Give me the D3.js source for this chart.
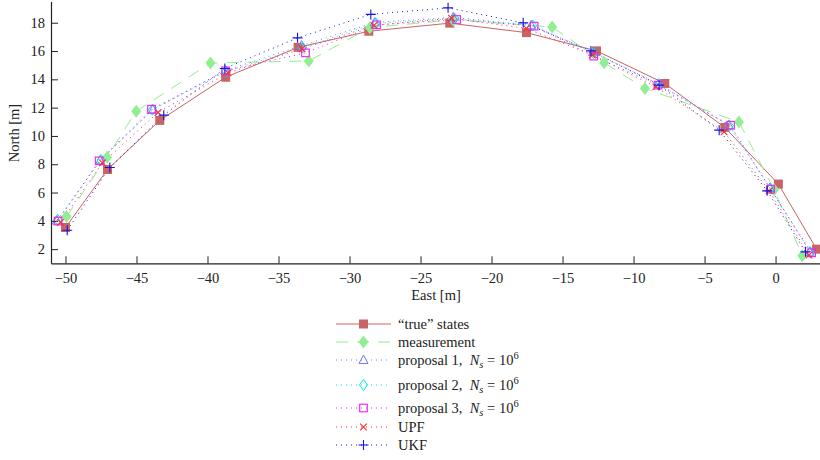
<!DOCTYPE html>
<html>
<head>
<meta charset="utf-8">
<script src="https://cdn.jsdelivr.net/npm/d3@7"></script>
<style>
  html, body { margin: 0; padding: 0; background: #fff; }
  svg { display: block; }
  svg text { font-family: "Liberation Serif", "Times New Roman", "DejaVu Serif", serif; fill: #222; }
</style>
</head>
<body>
<svg id="chart" width="820" height="460"></svg>
<script>
// Position estimates [East, North] in metres for each time step
const trueStates = [[-50.0, 3.53], [-47.04, 7.63], [-43.36, 11.1], [-38.72, 14.15], [-33.62, 16.26], [-28.64, 17.4], [-22.94, 17.97], [-17.54, 17.3], [-12.61, 16.01], [-7.8, 13.71], [-3.57, 10.6], [0.2, 6.6], [2.89, 2.0]];
const measurement = [[-49.93, 4.3], [-47.07, 8.5], [-45.02, 11.75], [-39.79, 15.15], [-32.87, 15.3], [-28.57, 17.65], [-22.7, 18.2], [-15.73, 17.7], [-12.07, 15.17], [-9.2, 13.36], [-2.58, 10.98], [-0.1, 6.2], [1.88, 1.53]];
const proposal1 = [[-50.6, 4.02], [-47.55, 8.28], [-43.85, 11.85], [-38.75, 14.62], [-33.38, 16.38], [-28.22, 18.02], [-22.7, 18.38], [-17.2, 17.82], [-12.85, 15.92], [-8.25, 13.68], [-3.3, 10.75], [-0.4, 6.32], [2.4, 1.82]];
const proposal2 = [[-50.55, 4.08], [-47.5, 8.3], [-43.88, 11.86], [-38.7, 14.55], [-33.3, 16.25], [-28.15, 17.95], [-22.6, 18.3], [-17.1, 17.8], [-12.82, 15.85], [-8.2, 13.65], [-3.25, 10.72], [-0.35, 6.28], [2.45, 1.78]];
const proposal3 = [[-50.52, 3.98], [-47.63, 8.24], [-43.94, 11.89], [-38.73, 14.6], [-33.1, 15.87], [-28.1, 17.85], [-22.46, 18.23], [-17.0, 17.76], [-12.8, 15.64], [-8.27, 13.59], [-3.17, 10.76], [-0.35, 6.24], [2.54, 1.74]];
const upf = [[-50.35, 3.89], [-47.4, 8.1], [-43.48, 11.66], [-38.55, 14.46], [-33.34, 16.16], [-28.27, 17.81], [-22.82, 18.32], [-17.54, 17.6], [-12.89, 15.71], [-8.43, 13.47], [-3.62, 10.29], [-0.45, 6.12], [2.35, 1.58]];
const ukf = [[-49.88, 3.34], [-46.88, 7.77], [-43.08, 11.47], [-38.78, 14.77], [-33.66, 16.93], [-28.5, 18.59], [-23.06, 19.05], [-17.77, 17.99], [-13.0, 16.01], [-8.2, 13.59], [-3.97, 10.41], [-0.59, 6.12], [2.11, 1.81]];

const xTicks = [-50, -45, -40, -35, -30, -25, -20, -15, -10, -5, 0];
const yTicks = [2, 4, 6, 8, 10, 12, 14, 16, 18];

const FONT = "'Liberation Serif', 'Times New Roman', serif";
const svg = d3.select("#chart");

const x = d3.scaleLinear().domain([-51.02, 3.2]).range([51, 821]);
const y = d3.scaleLinear().domain([1, 19.5]).range([263.3, 1.5]);

// Series styles
const series = [
  { name: "true", data: trueStates, color: "#c86464", dash: null, marker: "squareFill" },
  { name: "meas", data: measurement, color: "#92ee92", dash: "12,9", marker: "diamondFill" },
  { name: "p1", data: proposal1, color: "#7878ff", dash: "1,4", marker: "triangle" },
  { name: "p2", data: proposal2, color: "#00e8e8", dash: "1,4", marker: "diamond" },
  { name: "p3", data: proposal3, color: "#f020f0", dash: "1,4", marker: "square" },
  { name: "upf", data: upf, color: "#ff2a2a", dash: "1,4", marker: "cross" },
  { name: "ukf", data: ukf, color: "#1515e0", dash: "1,4", marker: "plus" }
];

function drawMarker(g, type, cx, cy, color) {
  switch (type) {
    case "squareFill":
      g.append("rect").attr("x", cx - 4.5).attr("y", cy - 4.5).attr("width", 9).attr("height", 9)
        .attr("fill", color);
      break;
    case "diamondFill":
      g.append("path").attr("d", `M${cx},${cy - 6.5}L${cx + 5},${cy}L${cx},${cy + 6.5}L${cx - 5},${cy}Z`)
        .attr("fill", color);
      break;
    case "triangle":
      g.append("path").attr("d", `M${cx},${cy - 5}L${cx + 4.5},${cy + 3.5}L${cx - 4.5},${cy + 3.5}Z`)
        .attr("fill", "none").attr("stroke", color).attr("stroke-width", 1);
      break;
    case "diamond":
      g.append("path").attr("d", `M${cx},${cy - 5.5}L${cx + 4},${cy}L${cx},${cy + 5.5}L${cx - 4},${cy}Z`)
        .attr("fill", "none").attr("stroke", color).attr("stroke-width", 1);
      break;
    case "square":
      g.append("rect").attr("x", cx - 3.8).attr("y", cy - 3.8).attr("width", 7.6).attr("height", 7.6)
        .attr("fill", "none").attr("stroke", color).attr("stroke-width", 1.1);
      break;
    case "cross":
      g.append("path").attr("d", `M${cx - 3.3},${cy - 3.3}L${cx + 3.3},${cy + 3.3}M${cx - 3.3},${cy + 3.3}L${cx + 3.3},${cy - 3.3}`)
        .attr("stroke", color).attr("stroke-width", 1.1);
      break;
    case "plus":
      g.append("path").attr("d", `M${cx - 5},${cy}L${cx + 5},${cy}M${cx},${cy - 5}L${cx},${cy + 5}`)
        .attr("stroke", color).attr("stroke-width", 1.1);
      break;
  }
}

const line = d3.line().x(d => x(d[0])).y(d => y(d[1]));

// Lines
const plot = svg.append("g");
series.forEach(s => {
  plot.append("path").datum(s.data).attr("d", line)
    .attr("fill", "none").attr("stroke", s.color).attr("stroke-width", 1)
    .attr("stroke-dasharray", s.dash);
});
// Markers on top of their lines, series by series
series.forEach(s => {
  const g = plot.append("g");
  s.data.forEach(d => drawMarker(g, s.marker, x(d[0]), y(d[1]), s.color));
});

// Axes
const xAxis = d3.axisBottom(x).tickValues(xTicks).tickSizeInner(-7).tickSizeOuter(0).tickPadding(9);
const yAxis = d3.axisLeft(y).tickValues(yTicks).tickSizeInner(-7).tickSizeOuter(0).tickPadding(6);

const gx = svg.append("g").attr("transform", `translate(0,${y(1)})`).call(xAxis);
const gy = svg.append("g").attr("transform", `translate(${x(-51.02)},0)`).call(yAxis);
[gx, gy].forEach(g => {
  g.attr("font-family", FONT);
  g.select(".domain").attr("stroke", "#222").attr("stroke-width", 1.2);
  g.selectAll(".tick line").attr("stroke", "#222");
  g.selectAll(".tick text").attr("font-size", 14.5).attr("font-family", FONT).attr("fill", "#222");
});

svg.append("text").attr("x", 436).attr("y", 300).attr("text-anchor", "middle")
  .attr("font-family", FONT).attr("font-size", 14.5).text("East [m]");
svg.append("text").attr("transform", "translate(19,133) rotate(-90)").attr("text-anchor", "middle")
  .attr("font-family", FONT).attr("font-size", 14.5).text("North [m]");

// Legend
const legendRows = [
  { s: series[0], y: 324, label: "“true” states" },
  { s: series[1], y: 342, label: "measurement" },
  { s: series[2], y: 360, label: null, n: "1" },
  { s: series[3], y: 385, label: null, n: "2" },
  { s: series[4], y: 408, label: null, n: "3" },
  { s: series[5], y: 427, label: "UPF" },
  { s: series[6], y: 445, label: "UKF" }
];
const legend = svg.append("g");
legendRows.forEach(r => {
  legend.append("line").attr("x1", 336).attr("x2", 391).attr("y1", r.y).attr("y2", r.y)
    .attr("stroke", r.s.color).attr("stroke-width", 1).attr("stroke-dasharray", r.s.dash);
  drawMarker(legend, r.s.marker, 363.5, r.y, r.s.color);
  const t = legend.append("text").attr("x", 398).attr("y", r.y + 5)
    .attr("font-family", FONT).attr("font-size", 14.5);
  if (r.label === null) {
    t.append("tspan").text(`proposal ${r.n},\u2002`);
    t.append("tspan").attr("font-style", "italic").text("N");
    t.append("tspan").attr("font-style", "italic").attr("font-size", 10.5).attr("dy", 3).text("s");
    t.append("tspan").attr("dy", -3).text(" = 10");
    t.append("tspan").attr("font-size", 10.5).attr("dy", -6.5).text("6");
  } else {
    t.text(r.label);
  }
});
</script>
</body>
</html>
